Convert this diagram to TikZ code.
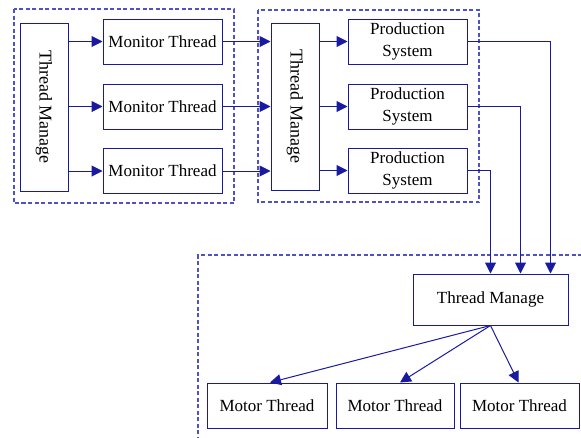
\documentclass[tikz,border=0pt]{standalone}
\usepackage{fontspec}
\setmainfont{Liberation Serif}
\usetikzlibrary{arrows.meta}
\definecolor{edge}{HTML}{1A1AA0}
\definecolor{dash}{HTML}{5050C8}
\tikzset{
  box/.style={draw=edge, line width=1pt, fill=white, inner sep=0pt, align=center, font=\fontsize{17}{21.5}\selectfont},
  vbox/.style={box, font=\fontsize{18}{20}\selectfont},
  conn/.style={draw=edge, line width=1pt, -{Triangle[length=11pt,width=11pt]}},
  group/.style={draw=dash, line width=1.1pt, dash pattern=on 4pt off 2.5pt}
}
\begin{document}
\begin{tikzpicture}[x=1pt,y=-1pt]
\useasboundingbox (0,0) rectangle (581,437);
% dashed groups
\draw[group] (14,9) rectangle (234,203);
\draw[group] (258,10) rectangle (479,202);
\draw[group] (198,460) -- (198,255) -- (590,255);
% left column
\node[vbox, minimum width=48pt, minimum height=168pt] (tmA) at (44,107) {\rotatebox{-90}{Thread Manage}};
\node[box, minimum width=119pt, minimum height=45pt] (m1) at (162.5,41.5) {Monitor Thread};
\node[box, minimum width=119pt, minimum height=45pt] (m2) at (162.5,106.5) {Monitor Thread};
\node[box, minimum width=119pt, minimum height=45pt] (m3) at (162.5,171) {Monitor Thread};
% middle column
\node[vbox, minimum width=48pt, minimum height=167pt] (tmB) at (295,106.5) {\rotatebox{-90}{Thread Manage}};
\node[box, minimum width=119pt, minimum height=45pt] (p1) at (407.5,41.5) {Production\\System};
\node[box, minimum width=119pt, minimum height=45pt] (p2) at (407.5,106.5) {Production\\System};
\node[box, minimum width=119pt, minimum height=45pt] (p3) at (407.5,170.5) {Production\\System};
% bottom
\node[box, minimum width=155pt, minimum height=51pt] (tmC) at (490.5,299.5) {Thread Manage};
\node[box, minimum width=120pt, minimum height=45pt] (mt1) at (267,405.5) {Motor Thread};
\node[box, minimum width=118pt, minimum height=45pt] (mt2) at (395,405.5) {Motor Thread};
\node[box, minimum width=119pt, minimum height=45pt] (mt3) at (519.5,405.5) {Motor Thread};
% connectors left
\draw[conn] (tmA.east |- m1) -- (m1.west);
\draw[conn] (tmA.east |- m2) -- (m2.west);
\draw[conn] (tmA.east |- m3) -- (m3.west);
\draw[conn] (m1.east) -- (tmB.west |- m1);
\draw[conn] (m2.east) -- (tmB.west |- m2);
\draw[conn] (m3.east) -- (tmB.west |- m3);
\draw[conn] (tmB.east |- p1) -- (p1.west);
\draw[conn] (tmB.east |- p2) -- (p2.west);
\draw[conn] (tmB.east |- p3) -- (p3.west);
% production to thread manage
\draw[conn] (p3.east) -| (tmC.north);
\draw[conn] (p2.east) -| ([xshift=30pt]tmC.north);
\draw[conn] (p1.east) -| ([xshift=60pt]tmC.north);
% thread manage to motors
\draw[conn] (tmC.south) -- ([xshift=3pt]mt1.north);
\draw[conn] (tmC.south) -- ([xshift=5pt]mt2.north);
\draw[conn] (tmC.south) -- ([xshift=-1pt]mt3.north);
\end{tikzpicture}
\end{document}
